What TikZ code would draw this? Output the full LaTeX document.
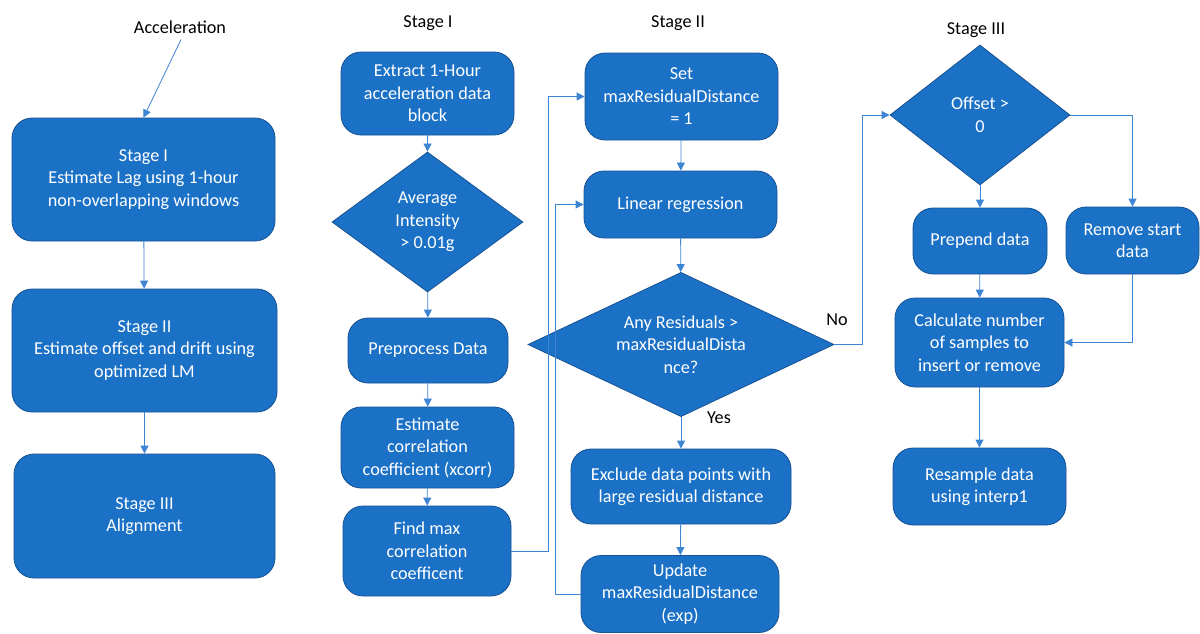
\documentclass[tikz,border=0pt]{standalone}
\usepackage{fontspec}
\setmainfont{Carlito}
\usetikzlibrary{shapes.geometric,arrows.meta,positioning}
\definecolor{boxfill}{RGB}{26,113,198}
\definecolor{boxline}{RGB}{24,82,148}
\definecolor{connline}{RGB}{62,132,212}
\tikzset{
  box/.style={draw=boxline,fill=boxfill,line width=0.8pt,rounded corners=20pt,text=white,align=center,inner sep=2pt,font=\fontsize{18.2}{22.5}\selectfont},
  dia/.style={draw=boxline,fill=boxfill,line width=0.8pt,diamond,inner sep=0pt,aspect=1.5,text=white,align=center,font=\fontsize{18.2}{22.5}\selectfont},
  title/.style={text=black,font=\fontsize{18.2}{20}\selectfont,inner sep=0pt},
  lab/.style={text=black,font=\fontsize{18.2}{20}\selectfont,inner sep=0pt},
  conn/.style={draw=connline,line width=0.8pt,-{Triangle[length=8pt,width=8pt]}},
}
\begin{document}
\begin{tikzpicture}[x=1pt,y=-1pt]
\useasboundingbox (0,0) rectangle (1200,633);
% titles
\node[title] (acc) at (180,27) {Acceleration};
\node[title] (t1) at (428,23) {Stage I};
\node[title] (t2) at (678,23) {Stage II};
\node[title] (t3) at (976,30) {Stage III};
% left column
\node[box,minimum width=263pt,minimum height=123pt] (s1) at (143.5,179.5) {Stage I\\Estimate Lag using 1-hour\\non-overlapping windows};
\node[box,minimum width=265pt,minimum height=123pt] (s2) at (144.5,350.5) {Stage II\\Estimate offset and drift using\\optimized LM};
\node[box,minimum width=261pt,minimum height=124pt] (s3) at (144.5,516) {Stage III\\Alignment};
% Stage I column
\node[box,minimum width=173pt,minimum height=83pt] (ext) at (427.5,93.5) {Extract 1-Hour\\acceleration data\\block};
\node[dia,minimum width=191pt,minimum height=140pt] (avg) at (427.5,222) {Average\\Intensity\\> 0.01g};
\node[box,minimum width=160pt,minimum height=65pt] (pre) at (428,350.5) {Preprocess Data};
\node[box,minimum width=173pt,minimum height=81pt] (est) at (427.5,447.5) {Estimate\\correlation\\coefficient (xcorr)};
\node[box,minimum width=168pt,minimum height=90pt] (fmax) at (427,551) {Find max\\correlation\\coefficent};
% Stage II column
\node[box,minimum width=193pt,minimum height=87pt] (set) at (681.5,96.5) {Set\\maxResidualDistance\\= 1};
\node[box,minimum width=193pt,minimum height=67pt] (lin) at (680.5,204.5) {Linear regression};
\node[dia,minimum width=306pt,minimum height=137pt] (anyr) at (681,344.5) {Any Residuals >\\maxResidualDista\\nce?};
\node[box,minimum width=220pt,minimum height=75pt] (excl) at (681,486.5) {Exclude data points with\\large residual distance};
\node[box,minimum width=198pt,minimum height=77pt] (upd) at (680,594) {Update\\maxResidualDistance\\(exp)};
% Stage III column
\node[dia,minimum width=180pt,minimum height=140pt] (off) at (980,115) {Offset >\\0};
\node[box,minimum width=134pt,minimum height=66pt] (prep) at (980,241) {Prepend data};
\node[box,minimum width=133pt,minimum height=67pt] (rem) at (1132.5,240.5) {Remove start\\data};
\node[box,minimum width=169pt,minimum height=89pt] (calc) at (979.5,342.5) {Calculate number\\of samples to\\insert or remove};
\node[box,minimum width=173pt,minimum height=77pt] (res) at (979.5,486.5) {Resample data\\using interp1};
% labels
\node[lab] (no) at (837,320) {No};
\node[lab] (yes) at (719,418) {Yes};
% connectors
\draw[conn] (acc.south) ++(1,6) -- (s1.north);
\draw[conn] (s1) -- (s2);
\draw[conn] (s2) -- (s3);
\draw[conn] (ext) -- (avg);
\draw[conn] (avg) -- (pre);
\draw[conn] (pre) -- (est);
\draw[conn] (est) -- (fmax);
\draw[conn] (fmax.east) -- ++(37,0) |- (set.west);
\draw[conn] (set) -- (lin);
\draw[conn] (lin) -- (anyr);
\draw[conn] (anyr) -- (excl);
\draw[conn] (excl) -- (upd);
\draw[conn] (upd.west) -- ++(-25,0) |- (lin.west);
\draw[conn] (anyr.east) -- ++(28,0) |- (off.west);
\draw[conn] (off.south) -- (prep.north);
\draw[conn] (off.east) -| (rem.north);
\draw[conn] (prep) -- (calc);
\draw[conn] (rem.south) |- (calc.east);
\draw[conn] (calc) -- (res);
\end{tikzpicture}
\end{document}
